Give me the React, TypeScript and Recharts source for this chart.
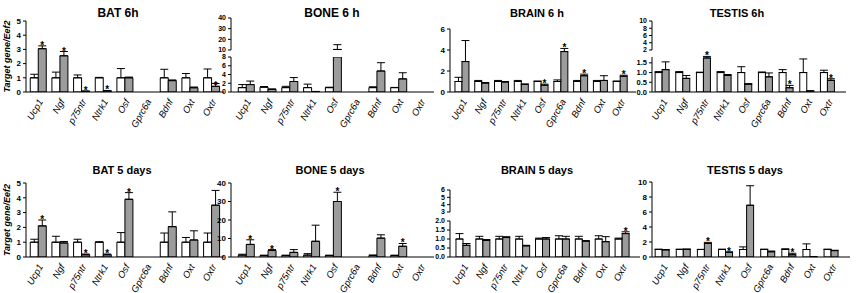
import React from "react";
import { BarChart, Bar, XAxis, YAxis, ErrorBar, LabelList } from "recharts";

const FONT = "Arial, 'Liberation Sans', Helvetica, sans-serif";

const genes = ["Ucp1", "Ngf", "p75ntr", "Ntrk1", "Osf", "Gprc6a", "Bdnf", "Oxt", "Oxtr"];

type N = number | null;

// BAT 6h
const bat6Ctrl: N[] = [1, 1, 1, 1, 1, null, 1, 1, 1];
const bat6CtrlErr: N[] = [0.25, 0.4, 0.2, 0.03, 0.65, null, 0.6, 0.3, 0.62];
const bat6Trt: N[] = [3.05, 2.55, 0.05, 0.08, 1.0, null, 0.8, 0.3, 0.4];
const bat6TrtErr: N[] = [0.2, 0.3, 0.02, 0.03, 0.05, null, 0.05, 0.05, 0.2];
const bat6Sig = [1, 1, 1, 1, 0, 0, 0, 1, 0];

// BONE 6 h
const bone6Ctrl: N[] = [1.0, 1.1, 1.0, 1.0, 1.0, null, 1.0, 1.0, null];
const bone6CtrlErr: N[] = [0.7, 0.15, 0.3, 0.8, 0.1, null, 0.2, 0.05, null];
const bone6Trt: N[] = [1.7, 0.6, 2.4, 0.1, 10.5, null, 4.8, 3.0, null];
const bone6TrtErr: N[] = [0.8, 0.1, 0.9, 0.03, 4.5, null, 1.9, 1.4, null];
const bone6Sig = [0, 0, 0, 0, 0, 0, 0, 0, 0];

// BRAIN 6 h
const brain6Ctrl: N[] = [1, 1, 1, 1, 1, 1, 1, 1, 1];
const brain6CtrlErr: N[] = [0.4, 0.1, 0.1, 0.1, 0.05, 0.15, 0.1, 0.1, 0.05];
const brain6Trt: N[] = [2.9, 0.85, 0.95, 0.72, 0.65, 3.85, 1.55, 1.1, 1.5];
const brain6TrtErr: N[] = [2.0, 0.05, 0.05, 0.05, 0.1, 0.3, 0.15, 0.45, 0.1];
const brain6Sig = [0, 0, 0, 0, 1, 1, 1, 0, 1];

// TESTIS 6h
const testis6Ctrl: N[] = [1, 1, 1, 1, 1, 1, 1, 1, 1];
const testis6CtrlErr: N[] = [0.05, 0.05, 0.02, 0.05, 0.3, 0.03, 0.15, 0.7, 0.12];
const testis6Trt: N[] = [1.15, 0.7, 1.75, 0.85, 0.4, 0.78, 0.22, 0.05, 0.6];
const testis6TrtErr: N[] = [0.4, 0.15, 0.08, 0.05, 0.03, 0.2, 0.12, 0.01, 0.08];
const testis6Sig = [0, 0, 1, 0, 0, 0, 1, 0, 1];

// BAT 5 days
const bat5Ctrl: N[] = [1, 1, 1, 1, 1, null, 1, 1, 1];
const bat5CtrlErr: N[] = [0.2, 0.4, 0.2, 0.03, 0.65, null, 0.62, 0.32, 0.62];
const bat5Trt: N[] = [2.1, 0.95, 0.15, 0.15, 3.9, null, 2.05, 1.15, 3.5];
const bat5TrtErr: N[] = [0.4, 0.1, 0.05, 0.05, 0.45, null, 1.0, 0.62, 1.0];
const bat5Sig = [1, 0, 1, 1, 1, 0, 0, 0, 0];

// BONE 5 days
const bone5Ctrl: N[] = [1.0, 0.8, 0.8, 1.0, 0.8, null, 0.8, 0.8, null];
const bone5CtrlErr: N[] = [0.5, 0.2, 0.2, 0.8, 0.2, null, 0.3, 0.2, null];
const bone5Trt: N[] = [6.8, 3.5, 2.5, 8.5, 30, null, 10.2, 5.8, null];
const bone5TrtErr: N[] = [2.5, 0.5, 1.5, 8.7, 5, null, 1.8, 1.5, null];
const bone5Sig = [1, 1, 0, 0, 1, 0, 1, 1, 0];

// BRAIN 5 days
const brain5Ctrl: N[] = [1, 1, 1, 1, 1, 1, 1, 1, 1];
const brain5CtrlErr: N[] = [0.3, 0.15, 0.15, 0.15, 0.05, 0.18, 0.15, 0.18, 0.05];
const brain5Trt: N[] = [0.65, 0.92, 1.08, 0.62, 1.0, 1.0, 0.88, 0.85, 1.3];
const brain5TrtErr: N[] = [0.1, 0.05, 0.05, 0.03, 0.08, 0.15, 0.03, 0.28, 0.1];
const brain5Sig = [0, 0, 0, 0, 0, 0, 0, 0, 1];

// TESTIS 5 days
const testis5Ctrl: N[] = [1, 1, 1, 1, 1, 1, 1, 1, 1];
const testis5CtrlErr: N[] = [0.05, 0.05, 0.02, 0.05, 0.35, 0.05, 0.1, 0.75, 0.05];
const testis5Trt: N[] = [0.95, 1.0, 1.8, 0.6, 6.9, 0.7, 0.3, 0.05, 0.85];
const testis5TrtErr: N[] = [0.05, 0.08, 0.15, 0.1, 2.6, 0.1, 0.2, 0.01, 0.05];
const testis5Sig = [0, 0, 1, 1, 0, 0, 1, 0, 0];

type Seg = { domain: [number, number]; ticks: number[]; top: number; bottom: number; upper?: boolean; dec?: number; fs?: number };
type Panel = {
  title: string; titleX: number; titleY: number; titleSize: number;
  ctrl: N[]; ctrlErr: N[]; trt: N[]; trtErr: N[]; sig: number[];
  x0: number; x1: number; padL: number; padR: number; segs: Seg[]; yLabel?: boolean;
};

const panels: Panel[] = [
  { title: "BAT 6h", titleX: 118, titleY: 17, titleSize: 12, ctrl: bat6Ctrl, ctrlErr: bat6CtrlErr, trt: bat6Trt, trtErr: bat6TrtErr, sig: bat6Sig,
    x0: 26, x1: 224, padL: 1, padR: 2, yLabel: true,
    segs: [{ domain: [0, 5], ticks: [0, 1, 2, 3, 4, 5], top: 21, bottom: 92 }] },
  { title: "BONE 6 h", titleX: 332, titleY: 17, titleSize: 12, ctrl: bone6Ctrl, ctrlErr: bone6CtrlErr, trt: bone6Trt, trtErr: bone6TrtErr, sig: bone6Sig,
    x0: 231, x1: 434, padL: 4, padR: 3,
    segs: [
      { domain: [10, 40], ticks: [10, 20, 30, 40], top: 18, bottom: 50, upper: true, fs: 7 },
      { domain: [0, 8], ticks: [0, 2, 4, 6, 8], top: 57, bottom: 92, fs: 7 },
    ] },
  { title: "BRAIN 6 h", titleX: 537, titleY: 17, titleSize: 11, ctrl: brain6Ctrl, ctrlErr: brain6CtrlErr, trt: brain6Trt, trtErr: brain6TrtErr, sig: brain6Sig,
    x0: 450, x1: 636, padL: 2, padR: 6,
    segs: [{ domain: [0, 6], ticks: [0, 2, 4, 6], top: 29, bottom: 92 }] },
  { title: "TESTIS 6h", titleX: 737, titleY: 17, titleSize: 11, ctrl: testis6Ctrl, ctrlErr: testis6CtrlErr, trt: testis6Trt, trtErr: testis6TrtErr, sig: testis6Sig,
    x0: 652, x1: 846, padL: 0, padR: 8,
    segs: [
      { domain: [2, 10], ticks: [2, 4, 6, 8, 10], top: 21, bottom: 50, upper: true, fs: 7 },
      { domain: [0, 1.8], ticks: [0, 0.5, 1, 1.5], top: 57, bottom: 92, dec: 1, fs: 7.5 },
    ] },
  { title: "BAT 5 days", titleX: 122, titleY: 174, titleSize: 11, ctrl: bat5Ctrl, ctrlErr: bat5CtrlErr, trt: bat5Trt, trtErr: bat5TrtErr, sig: bat5Sig,
    x0: 26, x1: 224, padL: 1, padR: 2, yLabel: true,
    segs: [{ domain: [0, 5], ticks: [0, 1, 2, 3, 4, 5], top: 183, bottom: 257 }] },
  { title: "BONE 5 days", titleX: 330, titleY: 174, titleSize: 11, ctrl: bone5Ctrl, ctrlErr: bone5CtrlErr, trt: bone5Trt, trtErr: bone5TrtErr, sig: bone5Sig,
    x0: 231, x1: 434, padL: 4, padR: 3,
    segs: [{ domain: [0, 40], ticks: [0, 10, 20, 30, 40], top: 183, bottom: 257 }] },
  { title: "BRAIN 5 days", titleX: 537, titleY: 174, titleSize: 11, ctrl: brain5Ctrl, ctrlErr: brain5CtrlErr, trt: brain5Trt, trtErr: brain5TrtErr, sig: brain5Sig,
    x0: 450, x1: 640, padL: 3, padR: 8,
    segs: [
      { domain: [3, 6], ticks: [3, 4, 5, 6], top: 190, bottom: 212, upper: true, fs: 7 },
      { domain: [0, 2], ticks: [0, 0.5, 1, 1.5, 2], top: 221, bottom: 257, dec: 1, fs: 7 },
    ] },
  { title: "TESTIS 5 days", titleX: 745, titleY: 174, titleSize: 11, ctrl: testis5Ctrl, ctrlErr: testis5CtrlErr, trt: testis5Trt, trtErr: testis5TrtErr, sig: testis5Sig,
    x0: 652, x1: 850, padL: 0, padR: 8,
    segs: [{ domain: [0, 10], ticks: [0, 2, 4, 6, 8, 10], top: 182, bottom: 257 }] },
];

const YW = 28;
const MT = 10;
const MB = 6;
const XH = 40;

const GeneTick = (props: any) => {
  const { x, y, payload } = props;
  const tx = x + 3;
  const ty = y;
  return (
    <text x={tx} y={ty} transform={`rotate(-60 ${tx} ${ty})`} textAnchor="end" fontSize={9.5}
      fontStyle="italic" fontFamily={FONT} fill="#000" dy={3}>
      {payload.value}
    </text>
  );
};

function buildRows(p: Panel, seg: Seg) {
  const [lo, hi] = seg.domain;
  const show = (v: N) => v != null && (seg.upper ? v > lo : true);
  const val = (v: N) => (show(v) ? (seg.upper ? v : Math.min(v as number, hi)) : null);
  const err = (v: N, e: N) => (show(v) && e != null && (seg.upper || (v as number) <= hi) ? [0, e] : null);
  return genes.map((g, i) => ({
    gene: g,
    c: val(p.ctrl[i]),
    ce: err(p.ctrl[i], p.ctrlErr[i]),
    t: val(p.trt[i]),
    te: err(p.trt[i], p.trtErr[i]),
    sig: p.sig[i],
  }));
}

function Segment({ p, seg, showX }: { p: Panel; seg: Seg; showX: boolean }) {
  const rows = buildRows(p, seg);
  const plotH = seg.bottom - seg.top;
  const ppu = plotH / (seg.domain[1] - seg.domain[0]);
  const width = p.x1 - p.x0 + YW + 2;
  const mb = showX ? 0 : MB;
  const height = plotH + MT + (showX ? XH : mb);

  const star = (props: any) => {
    const vb = props.viewBox || props;
    const r = rows[props.index];
    if (!r || !r.sig || r.t == null || !r.te) return null;
    const x = (vb.x ?? props.x) + (vb.width ?? props.width) / 2;
    const y = (vb.y ?? props.y) - (r.te[1] as number) * ppu;
    return (
      <text x={x} y={y + 3} textAnchor="middle" fontSize={10} fontWeight="bold" fontFamily={FONT} fill="#000">
        *
      </text>
    );
  };

  return (
    <div style={{ position: "absolute", left: p.x0 - YW, top: seg.top - MT }}>
      <BarChart width={width} height={height} data={rows} margin={{ top: MT, right: 2, left: 0, bottom: mb }}
        barGap={0} barCategoryGap="15%">
        <XAxis dataKey="gene" hide={!showX} interval={0} height={XH} tickLine={false}
          axisLine={{ stroke: "#000", strokeWidth: 1 }} tick={GeneTick} padding={{ left: p.padL, right: p.padR }} />
        <YAxis width={YW} type="number" domain={seg.domain} ticks={seg.ticks} allowDataOverflow
          interval={0} tickSize={3} axisLine={{ stroke: "#000", strokeWidth: 1 }} tickLine={{ stroke: "#000" }}
          tickFormatter={(v: number) => (seg.dec ? v.toFixed(seg.dec) : String(v))}
          tick={{ fontSize: seg.fs ?? 8, fontWeight: "bold", fill: "#000", fontFamily: FONT }} />
        <Bar dataKey="c" fill="#ffffff" stroke="#000" strokeWidth={1} isAnimationActive={false}>
          <ErrorBar dataKey="ce" width={4} stroke="#000" strokeWidth={1} />
        </Bar>
        <Bar dataKey="t" fill="#9c9c9c" stroke="#000" strokeWidth={1} isAnimationActive={false}>
          <ErrorBar dataKey="te" width={4} stroke="#000" strokeWidth={1} />
          <LabelList dataKey="t" content={star} />
        </Bar>
      </BarChart>
    </div>
  );
}

export default function App() {
  return (
    <div style={{ position: "absolute", left: 0, top: 0, width: 856, height: 293, background: "#fff", overflow: "hidden" }}>
      {panels.map((p) =>
        p.segs.map((s, k) => <Segment key={p.title + k} p={p} seg={s} showX={k === p.segs.length - 1} />)
      )}
      <svg width={856} height={293} style={{ position: "absolute", left: 0, top: 0, pointerEvents: "none" }}>
        {panels.map((p) => (
          <text key={p.title} x={p.titleX} y={p.titleY} textAnchor="middle" fontSize={p.titleSize}
            fontWeight="bold" fontFamily={FONT} fill="#000">
            {p.title}
          </text>
        ))}
        {panels.filter((p) => p.yLabel).map((p) => {
          const cy = (p.segs[0].top + p.segs[p.segs.length - 1].bottom) / 2;
          return (
            <text key={"yl" + p.title} x={10} y={cy} transform={`rotate(-90 10 ${cy})`} textAnchor="middle"
              fontSize={9} fontWeight="bold" fontStyle="italic" fontFamily={FONT} fill="#000">
              Target gene/Eef2
            </text>
          );
        })}
      </svg>
    </div>
  );
}
